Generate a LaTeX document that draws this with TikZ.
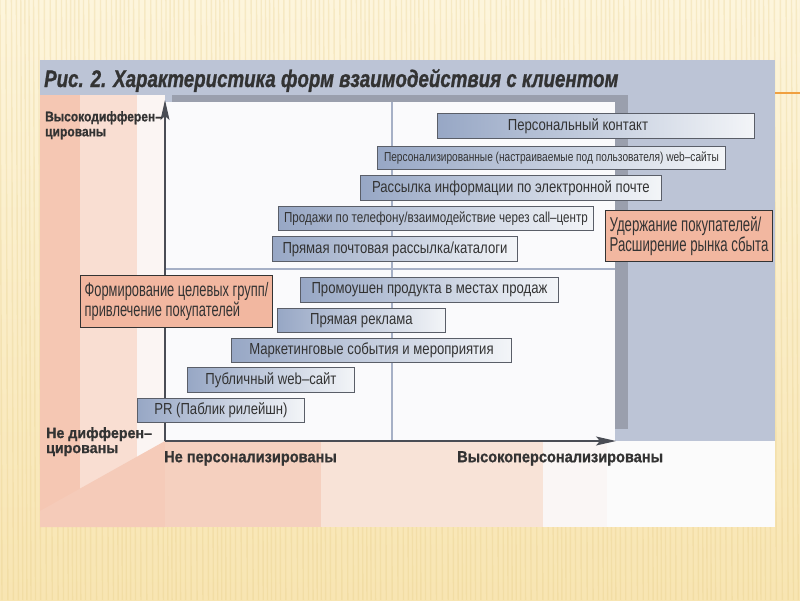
\documentclass[tikz,border=0pt]{standalone}
\usepackage{fontspec}
\setmainfont{Liberation Sans}
\newfontfamily\nar[FakeStretch=0.82]{Liberation Sans}
\newfontfamily\narb[FakeStretch=0.78]{Liberation Sans}
\newfontfamily\narc[FakeStretch=0.8]{Liberation Sans}
\newfontfamily\narv[FakeStretch=0.66]{Liberation Sans}
\newfontfamily\labA[FakeStretch=0.86, BoldFeatures={FakeBold=0.8}]{Liberation Sans}
\newfontfamily\labB[FakeStretch=0.95, BoldFeatures={FakeBold=0.8}]{Liberation Sans}
\newfontfamily\labC[FakeStretch=0.91, BoldFeatures={FakeBold=0.8}]{Liberation Sans}
\newfontfamily\ttl[FakeStretch=0.78, BoldItalicFeatures={FakeBold=1}]{Liberation Sans}
\usetikzlibrary{arrows.meta}
\definecolor{bgtop}{HTML}{FDF5DC}
\definecolor{bgbot}{HTML}{F8E5B2}
\definecolor{stripe}{HTML}{E2C77E}
\definecolor{panelblue}{HTML}{BCC4D6}
\definecolor{shadow}{HTML}{9A9FAD}
\definecolor{chartw}{HTML}{FAFAFC}
\definecolor{midline}{HTML}{A6B0C6}
\definecolor{peachA}{HTML}{F5C7B3}
\definecolor{peachB}{HTML}{F9DED2}
\definecolor{peachC}{HTML}{FBF5F3}
\definecolor{peachD}{HTML}{F5CBB9}
\definecolor{peachE}{HTML}{F5D0BF}
\definecolor{peachF}{HTML}{F8E3D7}
\definecolor{peachG}{HTML}{FAF6F5}
\definecolor{whiteG}{HTML}{FBFBFB}
\definecolor{barL}{HTML}{97A7C5}
\definecolor{barM}{HTML}{BCC7DA}
\definecolor{barR}{HTML}{F3F5F8}
\definecolor{barline}{HTML}{5A5E68}
\definecolor{salmon}{HTML}{F2B7A0}
\definecolor{txt}{HTML}{333333}
\definecolor{axis}{HTML}{4A4D55}
\definecolor{orangeline}{HTML}{F0A040}
\tikzset{
  bar/.style={draw=barline, line width=0.9pt, left color=barL, middle color=barM, right color=barR,
    anchor=north west, inner sep=0pt, text=txt, font=\nar\fontsize{16}{18}\selectfont},
  salmonbox/.style={draw=txt, line width=1pt, fill=salmon, anchor=north west, inner xsep=3pt, inner ysep=0pt,
    align=left, text=txt, font=\narv\fontsize{19.5}{20}\selectfont},
  axislabel/.style={anchor=north west, inner sep=0pt, align=left, text=txt},
  axisline/.style={draw=axis, line width=1.1pt},
  tip/.style={-{Stealth[length=20pt,width=9pt,inset=4pt]}}
}
\begin{document}
\begin{tikzpicture}[x=1pt,y=-1pt]
\useasboundingbox (0,0) rectangle (800,600);
% slide background
\shade[top color=bgtop, bottom color=bgbot] (0,0) rectangle (800,600);
\foreach \i in {0,...,160} {
  \draw[stripe, opacity=0.25, line width=1.4pt] ({5*\i+1.5*sin(37*\i)},0) -- ({5*\i+1.5*sin(37*\i)+2},600);
}
\draw[orangeline, line width=1.6pt] (775,93) -- (800,93);
% panel
\fill[panelblue] (40,60) rectangle (775,441);
\fill[peachA] (40,95) rectangle (80,527);
\fill[peachB] (80,95) rectangle (137,527);
\fill[peachC] (137,95) rectangle (165,527);
\fill[peachD] (40,511) -- (165,441) -- (165,527) -- (40,527) -- cycle;
\fill[peachE] (165,441) rectangle (321,527);
\fill[peachF] (321,441) rectangle (543,527);
\fill[peachG] (543,441) rectangle (607,527);
\fill[whiteG] (607,441) rectangle (775,527);
% chart area
\fill[shadow] (172,95) rectangle (628,429);
\fill[chartw] (165,102) rectangle (615,441);
\draw[midline, line width=1.2pt] (392,102) -- (392,441);
\draw[midline, line width=1.2pt] (165,269) -- (615,269);
\coordinate (O) at (165,441);
\coordinate (Ytop) at (165,100);
\coordinate (Xend) at (616,441);
\draw[axisline, tip] (O) -- (Ytop);
\draw[axisline, tip] (O) -- (Xend);
% title
\node[anchor=base west, inner sep=0pt, text=txt, font=\ttl\bfseries\itshape\fontsize{24}{26}\selectfont] (title) at (44,87)
  {Рис. 2. Характеристика форм взаимодействия с клиентом};
% axis labels
\node[axislabel, font=\labA\bfseries\fontsize{14}{15}\selectfont] (yhigh) at (45,111) {Высокодифферен–\\цированы};
\node[axislabel, font=\labB\bfseries\fontsize{15}{15}\selectfont] (ylow) at (46,427) {Не дифферен–\\цированы};
\node[axislabel, font=\labC\bfseries\fontsize{16}{18}\selectfont] (xlow) at (164,451) {Не персонализированы};
\node[axislabel, font=\labC\bfseries\fontsize{16}{18}\selectfont] (xhigh) at (457,451) {Высокоперсонализированы};
% bars
\node[bar, minimum width=317pt, minimum height=25pt] (b1) at (437,113) {Персональный контакт\hspace*{36pt}};
\node[bar, minimum width=348pt, minimum height=23pt, font=\narb\fontsize{13}{14}\selectfont] (b2) at (377,146)
  {Персонализированные (настраиваемые под пользователя) web–сайты};
\node[bar, minimum width=301pt, minimum height=25pt] (b3) at (360,175) {Рассылка информации по электронной почте};
\node[bar, minimum width=315pt, minimum height=24pt, font=\narc\fontsize{14.5}{15}\selectfont] (b4) at (278,206)
  {Продажи по телефону/взаимодействие через call–центр};
\node[bar, minimum width=245pt, minimum height=25pt] (b5) at (272,236) {Прямая почтовая рассылка/каталоги};
\node[bar, minimum width=258pt, minimum height=25pt] (b6) at (300,277) {Промоушен продукта в местах продаж};
\node[bar, minimum width=168pt, minimum height=24pt] (b7) at (277,308) {Прямая реклама};
\node[bar, minimum width=280pt, minimum height=24pt] (b8) at (231,338) {Маркетинговые события и мероприятия};
\node[bar, minimum width=167pt, minimum height=25pt] (b9) at (187,367) {Публичный web–сайт};
\node[bar, minimum width=167pt, minimum height=24pt] (b10) at (137,398) {PR (Паблик рилейшн)};
% salmon boxes
\node[salmonbox, minimum width=192pt, minimum height=52pt] (form) at (80,275)
  {Формирование целевых групп/\\привлечение покупателей};
\node[salmonbox, minimum width=167pt, minimum height=51pt, font=\narv\fontsize{20}{20}\selectfont] (keep) at (605,210)
  {Удержание покупателей/\\Расширение рынка сбыта};
\end{tikzpicture}
\end{document}
